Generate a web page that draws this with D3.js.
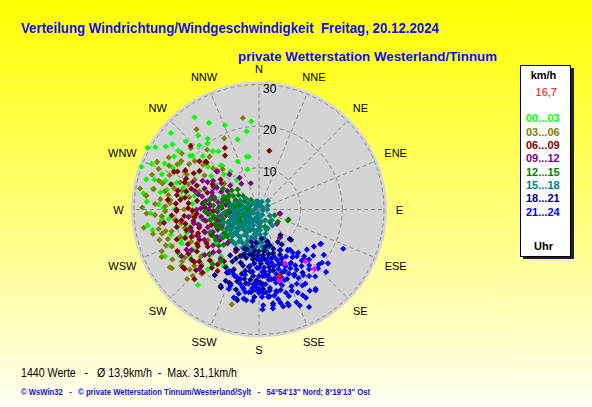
<!DOCTYPE html>
<html lang="de">
<head>
<meta charset="UTF-8">
<title>Verteilung Windrichtung/Windgeschwindigkeit</title>
<script src="https://d3js.org/d3.v7.min.js"></script>
<style>
  body { margin: 0; }
  svg { display: block; }
  text { white-space: pre; }
  .title { font-family: "Liberation Sans", Arial, sans-serif; font-weight: bold; fill: #1010e8; }
  .compass { font-family: "Liberation Sans", Arial, sans-serif; font-size: 11px; fill: #000; }
  .legend { font-family: "Liberation Sans", Arial, sans-serif; font-size: 11px; font-weight: bold; }
</style>
</head>
<body>
<svg width="592" height="407"></svg>
<script>
// Richtung (Grad) / Geschwindigkeit (km/h), je 3-Stunden-Block
const hourLabels = ["00...03", "03...06", "06...09", "09...12", "12...15", "15...18", "18...21", "21...24"];
const hourColors = ["#00ff00", "#808000", "#800000", "#800080", "#008000", "#008080", "#000080", "#0000ff"];
const compassLabels = ["N", "NNE", "NE", "ENE", "E", "ESE", "SE", "SSE", "S", "SSW", "SW", "WSW", "W", "WNW", "NW", "NNW"];
const ringValues = [10, 20, 30];
const currentSpeed = "16,7";

const h00_03 = [[299,30.6],[325,27],[355,21.2],[351,19],[338,21.8],[343,17.6],[324,21],[322,20.1],[325,17],[349,12.9],[336,12.6],[320,13.7],[323,11.4],[344,10],[323,8.9],[320.5,23],[296,25.2],[309,20.5],[313.5,18.6],[321.6,17.9],[347,13],[319,14],[315,11.9],[286,26.1],[290,24.8],[287,23.5],[286,21.8],[282,22.6],[288,20.8],[286,18.9],[279,18.8],[283,17.9],[282,15.8],[273,24.1],[269,22.5],[264,23.4],[277,13.6],[256,11],[265,12],[271,22.9],[266,23.3],[264,21.8],[270,20.2],[243.5,25.2],[246.5,20.3],[252,18.3],[219,23.3],[220.6,18.9],[231,17.3],[223,16.9],[212,16],[256,17.1],[238.6,18.5],[232,13.1],[219,14.5],[300,22],[304,27],[293,28],[311,28],[306,24],[297,20],[302,17],[292,19],[278,28],[281,26],[262,27],[258,20],[248,23],[275,16],[268,15],[261,14],[305,14],[310,16],[300,12],[290,14],[210,15.8],[295,27],[301,29],[307,26],[313,24],[317,21],[330,24],[290,30],[285,28],[280,24],[274,27],[268,26],[259,26],[254,22],[249,20],[240,22],[236,20],[227,19],[302,24],[308,21],[296,23]];
const h03_06 = [[322,24.4],[306,22.9],[299,22.4],[294,22.4],[297,20],[296,19.3],[289,20],[289.6,18],[281,25.7],[277,27.2],[276,23.8],[276,21.4],[283.5,19.1],[272,22.5],[266,23.4],[307,19.3],[308.6,17.2],[317,17.4],[334,19],[350,22.3],[319,19],[312,14.8],[307,10.4],[302,15.4],[257,26.1],[259,24.5],[247,22.7],[236,22.3],[237,21.2],[236,25.2],[229,20.6],[222,20.7],[196,23.7],[269,22.5],[274,21.4],[263,20.3],[256,21.6],[251,20],[256,18.4],[256,24],[242,22],[244.6,18],[239,14.3],[246.7,25.4],[261,28],[277,27.3],[237,25.5],[225,22.5],[285,24],[292,26],[300,25],[303,20],[280,17],[270,18],[265,16],[260,19],[252,23],[248,17],[287,15],[295,17],[312,22],[318,13],[280,29],[268,27],[231,18],[226,24],[281,23],[286,25],[291,23],[296,24],[302,22],[284,21],[279,22],[273,25],[267,25],[262,24],[257,23],[253,25],[249,24],[244,26],[240,24],[234,23],[229,22],[288,27],[295,27],[271,28]];
const h06_09 = [[313,22.4],[331,16.9],[327.8,15.3],[309,18.4],[312,16.9],[294,22.3],[295,21.6],[299,17.9],[308,11.7],[298.5,12.7],[270,19.8],[262,18.8],[254,18.1],[258,20.2],[248.7,15.7],[10,14.3],[312,17.2],[297,12.3],[269,19.8],[263,15.6],[255,14.8],[248,14.2],[248,17.5],[234,15.2],[239,17.1],[233.5,20.2],[225.6,19.4],[232.5,22.9],[214,17.8],[217,16.5],[221.7,20.3],[222.8,22.8],[231.5,22.8],[208.5,11],[214,15],[209,11.5],[275,17],[278,15],[272,13],[280,20],[284,18],[266,21],[260,16],[252,12],[244,19],[242,13],[288,13],[291,16],[268,11],[276,22],[282,12],[265,18],[258,13],[250,21],[238,20],[228,16],[243,22],[290,19],[274,20],[262,23],[286,22],[283,20],[279,18],[271,17],[266,15],[259,18],[253,15],[247,16],[241,17],[236,18],[229,19],[224,17],[219,18],[287,17],[293,19],[298,20],[303,17],[277,19],[269,16],[262,20],[255,17],[249,19],[243,16],[237,15],[231,20],[226,21]];
const h09_12 = [[312,13.7],[325.6,7.5],[292.6,17.2],[328.6,8.9],[342.7,6.6],[312.5,13.5],[101,5],[101,5.2],[128,5.5],[142.5,8.4],[166,7.9],[143.8,8.4],[284,7.6],[223,10.6],[275.7,13.6],[265,12.3],[255.4,10.3],[244,12.3],[235.8,10.2],[223,11.1],[223.6,13.9],[241,19.9],[239,18.9],[238.9,21.7],[224.9,20.2],[247,9.6],[245,8],[274.7,11.6],[297,15.2],[297.4,11.4],[286.5,11.6],[300.5,8.8],[273,9.6],[259,13.4],[280,10],[283,14],[290,12],[270,15],[262,9],[256,15],[250,11],[268,7],[278,6],[288,8],[295,10],[305,11],[264,17],[252,17],[232,14],[230,17],[247,14],[276,12],[260,11],[240,8],[292,6],[284,15],[270,12],[254,7],[218,15],[298,14],[310,9],[320,11],[283,11],[279,13],[271,14],[263,14],[258,16],[251,13],[246,16],[241,15],[237,12],[232,12],[227,15],[286,16],[291,14],[296,12],[302,13],[267,10],[260,8],[254,10],[248,10],[244,11],[285,9],[278,8],[272,9],[264,7],[256,9]];
const h12_15 = [[284.4,7.9],[283,4.2],[244,2.3],[234,8.4],[238.8,12.6],[250,9.8],[242,5.5],[273,9.2],[262,7.7],[237,7.7],[240,5.2],[273,2.9],[203,5.4],[229.4,10],[234.8,12.7],[227.8,16.1],[216.5,15.4],[220.2,17.2],[264,2.1],[110.6,4],[123,5.4],[110.6,7.4],[139,4],[161,4.4],[109,7.5],[294,2.3],[300,4],[305,6],[290,6],[278,5],[268,5],[258,4],[252,6],[266,8],[280,9],[296,8],[310,5],[320,3],[340,2],[285,11],[275,11],[260,10],[248,8],[230,6],[220,4],[210,3],[255,3],[270,3],[285,3],[235,10],[225,12],[245,13],[265,12],[290,9],[300,10],[313,7],[270,7],[257,6],[245,4],[215,8],[280,7],[275,9],[270,10],[262,11],[255,9],[250,7],[243,10],[238,9],[232,11],[228,13],[222,10],[286,9],[292,8],[298,7],[305,8],[281,12],[276,13],[268,13],[258,12],[252,11],[247,11],[241,7],[236,6],[226,8],[288,5],[282,6],[274,6],[262,5],[250,5],[240,3]];
const h15_18 = [[290,2.8],[66,2.3],[196,9.5],[167,9.4],[248,6.9],[171,9.4],[168,10.7],[207,2.9],[177,5],[211.5,8.6],[184,8.1],[190,10.2],[263,8.8],[274.5,6.8],[224.6,8],[198,9.3],[180,2],[190,3],[200,4],[210,5],[220,6],[230,5],[240,4],[250,3],[260,4],[270,5],[280,4],[300,3],[320,2],[350,2],[20,2],[45,3],[90,2],[120,3],[150,3],[160,5],[170,7],[175,8],[185,6],[195,7],[205,7],[215,8],[230,7],[245,6],[255,7],[265,6],[175,4],[185,9],[195,5],[200,8],[165,6],[155,5],[180,11],[190,11],[203,10],[215,10],[225,9],[240,7],[285,6],[295,5],[310,4],[140,5],[130,4],[190,2],[225,3],[260,2],[200,12],[210,11],[172,12],[235,11],[250,9],[170,3],[180,4],[185,5],[190,6],[195,8],[200,9],[205,5],[210,7],[215,6],[220,8],[225,7],[230,9],[235,8],[240,9],[245,8],[250,6],[255,5],[260,6],[270,4],[275,7],[165,9],[170,10],[175,9],[180,8],[185,10],[193,10],[198,11],[205,9],[212,9],[218,10],[222,5],[228,4],[185,3],[200,2],[215,4],[235,3],[178,6],[188,7],[208,6],[232,6],[10,1],[60,1],[100,1],[150,1.5],[200,1],[240,1.5],[280,1],[330,1]];
const h18_21 = [[134,10.2],[144.4,11.9],[167,17.1],[164,18.2],[179.3,19.5],[185.4,19.9],[193.5,22.4],[200.9,19.1],[196,17.4],[203.5,16.1],[192.6,15.1],[172.4,19.6],[151.4,17.7],[149,14.9],[206,20.8],[205,18.9],[202.8,15.6],[199,13.5],[186.6,11.7],[179,17.5],[181.6,19.1],[198.8,11.4],[206.6,20.5],[194.2,22.1],[133.5,10.6],[145.4,18.4],[171.5,22.8],[182.8,19.2],[177,19.1],[160,10],[165,12],[170,9],[175,11],[180,10],[185,13],[190,9],[195,12],[200,10],[205,13],[210,11],[170,14],[175,15],[180,14],[185,16],[190,14],[195,16],[200,17],[160,14],[155,12],[165,8],[175,7],[185,8],[190,18],[170,17],[178,13],[188,11],[193,8],[158,16],[183,21],[196,20],[210,16],[214,19],[150,9],[140,8],[168,20],[174,12],[182,12],[188,15],[162,11],[163,9],[168,11],[173,10],[177,12],[182,11],[187,12],[192,11],[197,10],[202,12],[207,14],[212,13],[167,15],[172,16],[177,16],[182,17],[187,17],[192,17],[197,18],[202,19],[207,17],[162,17],[157,14],[152,11],[147,10],[178,18],[184,18],[166,14],[171,13],[186,10],[196,14]];
const h21_24 = [[119.4,16.9],[115,22.3],[130.4,17.1],[136,15.6],[132.6,19.5],[140,18.7],[150.3,21],[145,23.7],[153,23.1],[163,23.6],[171.6,23.2],[174,21.1],[193.5,20.8],[205.5,16.8],[200.7,20.4],[201,16.7],[180.8,12],[118.9,17],[142.3,12.2],[141,14.4],[137.5,16.3],[206,16.4],[197.8,17.1],[191,19.4],[189.8,21.7],[194,18.4],[183,17.5],[177,17.9],[189,13.7],[152.8,26.3],[162.8,24.1],[144.5,23.4],[130.2,19.8],[124,15.9],[142,13.2],[200.5,19.5],[195,17.3],[189.4,20.1],[177.5,23],[168,20.3],[150,15],[155,17],[160,14],[165,16],[170,15],[175,18],[180,16],[185,19],[150,19],[155,13],[160,18],[165,20],[170,12],[175,14],[158,21],[148,17],[153,11],[162,12],[168,17],[172,19],[178,21],[182,14],[186,15],[145,14],[140,16],[135,20],[148,21],[157,20],[163,19],[167,13],[173,16],[179,12],[184,22],[192,16],[146,19],[155,22],[160,16],[170,21],[175,20],[188,18],[196,22],[138,18],[128,21],[158,24],[166,24],[180,20],[152,16],[161,22],[143,20],[147,16],[152,18],[157,16],[162,15],[167,18],[172,17],[177,15],[182,18],[187,20],[192,19],[145,12],[150,13],[155,15],[160,13],[165,14],[170,13],[175,16],[180,19],[148,23],[153,20],[158,18],[163,17],[168,22],[173,21],[178,24],[183,19],[140,21],[135,17],[130,15],[125,19],[152,24],[157,25],[162,21],[167,23],[172,24],[143,17],[138,14],[133,22],[177,20],[188,22]];
const lastHour = [[154,14.4],[138,16.7],[137,19.5],[164,17.8]];
const currentPoint = [[163,16.7]];

const series = [h00_03, h03_06, h06_09, h09_12, h12_15, h15_18, h18_21, h21_24];

const svg = d3.select("svg");
const cx = 259, cy = 209.5;

// Hintergrund
const grad = svg.append("defs").append("linearGradient")
  .attr("id", "bg").attr("x1", 0).attr("y1", 0).attr("x2", 0).attr("y2", 1);
grad.append("stop").attr("offset", "0%").attr("stop-color", "#ffff00");
grad.append("stop").attr("offset", "55%").attr("stop-color", "#ffff80");
grad.append("stop").attr("offset", "100%").attr("stop-color", "#fffff2");
svg.append("rect").attr("width", 592).attr("height", 407).attr("fill", "url(#bg)");

const r = d3.scaleLinear().domain([0, 30]).range([0, 125]);
const rad = deg => deg * Math.PI / 180;

const plot = svg.append("g").attr("transform", `translate(${cx},${cy})`);

plot.append("circle").attr("r", r(30) + 3).attr("fill", "#d4d4d4");

const dash = { stroke: "#888", "stroke-width": 1, "stroke-dasharray": "4,3", fill: "none" };
ringValues.forEach(v => {
  const c = plot.append("circle").attr("r", r(v));
  Object.entries(dash).forEach(([k, val]) => c.attr(k, val));
});
compassLabels.forEach((lab, i) => {
  const p = d3.pointRadial(rad(i * 22.5), r(30));
  const l = plot.append("line").attr("x1", 0).attr("y1", 0).attr("x2", p[0]).attr("y2", p[1]);
  Object.entries(dash).forEach(([k, val]) => l.attr(k, val));
});

// Ringbeschriftung
plot.selectAll(".ringlab").data(ringValues).enter().append("text")
  .attr("class", "compass")
  .attr("x", 4)
  .attr("y", d => -r(d) + 8)
  .style("font-size", "12px")
  .text(d => d);

// Himmelsrichtungen
plot.selectAll(".dir").data(compassLabels).enter().append("text")
  .attr("class", "compass")
  .attr("text-anchor", "middle")
  .attr("dominant-baseline", "central")
  .attr("transform", (d, i) => {
    const a = rad(i * 22.5);
    const rr = 140.5 + Math.max(0, d.length - 1) * 4 * Math.abs(Math.sin(a));
    const p = d3.pointRadial(a, rr);
    return `translate(${p[0]},${p[1]})`;
  })
  .text(d => d);

// Messpunkte
const diamond = d3.symbol().type(d3.symbolSquare).size(19)();
const pos = d => d3.pointRadial(rad(d[0]), r(d[1]));
function drawPoints(data, color) {
  plot.append("g").selectAll("path").data(data).enter().append("path")
    .attr("d", diamond)
    .attr("fill", color)
    .attr("transform", d => { const p = pos(d); return `translate(${p[0]},${p[1]}) rotate(45)`; });
}
series.forEach((s, i) => drawPoints(s, hourColors[i]));
drawPoints(lastHour, "#ff00ff");
drawPoints(currentPoint, "#ff0000");

// Titel
svg.append("text").attr("class", "title").attr("x", 21).attr("y", 33)
  .style("font-size", "14px")
  .attr("textLength", 418).attr("lengthAdjust", "spacingAndGlyphs")
  .text("Verteilung Windrichtung/Windgeschwindigkeit  Freitag, 20.12.2024");
svg.append("text").attr("class", "title").attr("x", 238).attr("y", 60.5)
  .style("font-size", "13.5px")
  .attr("textLength", 259).attr("lengthAdjust", "spacingAndGlyphs")
  .text("private Wetterstation Westerland/Tinnum");

// Legende
const lg = svg.append("g");
lg.append("rect").attr("x", 523).attr("y", 68).attr("width", 51).attr("height", 191).attr("fill", "#222");
lg.append("rect").attr("x", 520.5).attr("y", 65.5).attr("width", 50).attr("height", 191)
  .attr("fill", "#fff").attr("stroke", "#000").attr("stroke-width", 1);
lg.append("text").attr("class", "legend").attr("x", 543.5).attr("y", 79).attr("text-anchor", "middle").text("km/h");
lg.append("text").attr("class", "legend").attr("x", 557).attr("y", 96)
  .attr("text-anchor", "end").style("font-weight", "normal").attr("fill", "#ff0000").text(currentSpeed);
lg.selectAll(".grp").data(hourLabels).enter().append("text")
  .attr("class", "legend")
  .attr("x", 526)
  .attr("y", (d, i) => 122.3 + i * 13.35)
  .attr("fill", (d, i) => hourColors[i])
  .text(d => d);
lg.append("text").attr("class", "legend").attr("x", 543.5).attr("y", 250).attr("text-anchor", "middle").text("Uhr");

// Fusszeilen
svg.append("text").attr("x", 21).attr("y", 377)
  .style("font-family", "'Liberation Sans', Arial, sans-serif").style("font-size", "12px")
  .attr("textLength", 216).attr("lengthAdjust", "spacingAndGlyphs")
  .text("1440 Werte   -   Ø 13,9km/h  -  Max. 31,1km/h");
svg.append("text").attr("x", 21).attr("y", 395)
  .style("font-family", "'Liberation Sans', Arial, sans-serif").style("font-size", "8.5px")
  .style("font-weight", "bold").attr("fill", "#1010e8")
  .attr("textLength", 349).attr("lengthAdjust", "spacingAndGlyphs")
  .text("© WsWin32   -   © private Wetterstation Tinnum/Westerland/Sylt   -   54°54'13'' Nord; 8°19'13'' Ost");
</script>
</body>
</html>
